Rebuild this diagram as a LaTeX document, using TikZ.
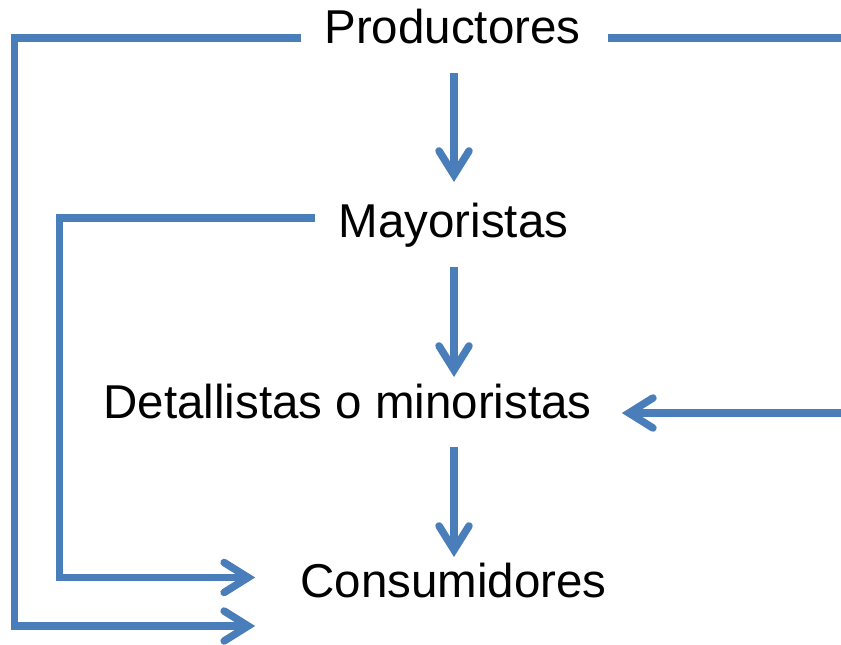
\documentclass[tikz,border=0pt]{standalone}
\usepackage{fontspec}
\setmainfont{Liberation Sans}
\usetikzlibrary{arrows.meta,calc}
\definecolor{lineblue}{RGB}{74,126,187}
\begin{document}
\begin{tikzpicture}[x=1pt,y=-1pt,
  lbl/.style={inner sep=0pt,anchor=base,font=\fontsize{47.5}{57}\selectfont},
  conn/.style={draw=lineblue,line width=7.5pt,line join=miter},
  arr/.style={conn,-{Straight Barb[length=24pt,width=30pt,line cap=round,line join=miter]}}]
\path[use as bounding box,clip] (0,0) rectangle (841,645);
\node[lbl] (prod) at (452.5,43) {Productores};
\node[lbl] (may) at (453.5,237) {Mayoristas};
\node[lbl] (det) at (347.5,418) {Detallistas o minoristas};
\node[lbl] (cons) at (453.5,597) {Consumidores};
% vertical arrows
\draw[arr] ($(prod.base)+(1.5,30)$) -- ($(may.base)+(0.5,-55)$);
\draw[arr] ($(may.base)+(0.5,30)$) -- ($(det.base)+(106.5,-41)$);
\draw[arr] ($(det.base)+(106.5,29)$) -- ($(cons.base)+(0.5,-40)$);
% left outer: productores -> consumidores
\draw[arr] ($(prod.base west)+(-23,-5)$) -| (14.5,626) -- ($(cons.base west)+(-45,29)$);
% left inner: mayoristas -> consumidores
\draw[arr] ($(may.base west)+(-23,-19)$) -| (59.5,577.5) -- ($(cons.base west)+(-45,-19.5)$);
% right: productores -> detallistas
\draw[arr] ($(prod.base east)+(27,-5)$) -| (850,413) -- ($(det.base east)+(30,-5)$);
\end{tikzpicture}
\end{document}
